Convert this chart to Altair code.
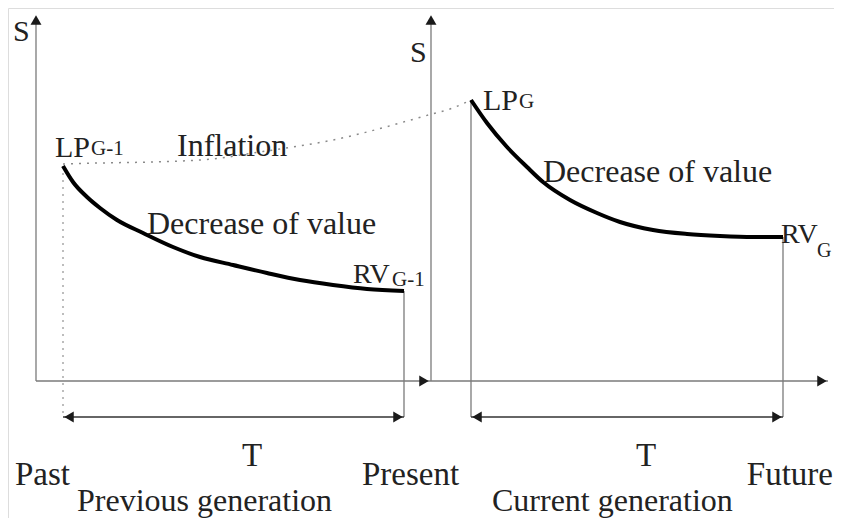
import altair as alt
import pandas as pd

# ---- data (t = time position, s = value S) ----
left_curve_t = [27, 37, 51, 64, 81, 107, 137, 164, 197, 231, 264, 297, 331, 368]
left_curve_s = [215, 199, 184, 173, 161, 148, 134, 124, 116, 108, 101, 96, 92, 90]
right_curve_t = [435, 451, 471, 491, 507, 534, 561, 584, 617, 651, 684, 717, 747]
right_curve_s = [281, 258, 234, 214, 199, 181, 168, 159, 151, 147, 145, 144, 144]
infl_t = [27, 64, 114, 177, 217, 257, 297, 331, 364, 396, 414, 435]
infl_s = [217, 218, 219, 222, 228, 234, 241, 249, 258, 267, 272, 281]

# segments: t, t2, s, s2, style
seg_t = [0, 395, 0, 27, 368, 435, 747, 27, 435]
seg_t2 = [0, 395, 792, 27, 368, 435, 747, 368, 747]
seg_s = [0, 0, 0, 215, 90, 281, 144, -36, -36]
seg_s2 = [362, 362, 0, -36, -36, -36, -36, -36, -36]
seg_style = ["axis", "axis", "axis", "dot", "axis", "axis", "axis", "dim", "dim"]

# arrow heads
head_t = [0, 395, 388, 786, 33, 362, 441, 741]
head_s = [361, 361, 0, 0, -36, -36, -36, -36]
head_shape = ["triangle-up", "triangle-up", "triangle-right", "triangle-right",
              "triangle-left", "triangle-right", "triangle-left", "triangle-right"]

# labels (left aligned)
lab_text = ["S", "S", "LP", "G-1", "Inflation", "Decrease of value", "RV", "G-1",
            "LP", "G", "Decrease of value", "RV", "G",
            "Past", "Present", "Previous generation", "Current generation"]
lab_t = [-23, 374, 19, 55, 141, 111, 317, 356, 447, 483, 507, 745, 781,
         -21, 326, 41, 456]
lab_s = [340, 319, 224, 226, 225, 147, 98, 95, 271, 273, 199, 138, 124,
         -104, -104, -130, -130]
lab_size = [30, 30, 30, 21, 32, 32, 28, 21, 30, 21, 32, 28, 20,
            33, 33, 32, 32]
# centred / right aligned labels
t_text = ["T", "T"]
t_t = [216, 610]
t_s = [-85, -85]
r_text = ["Future"]
r_t = [797]
r_s = [-104]

FONT = "Liberation Serif"
xs = alt.Scale(domain=[-28, 798], nice=False, zero=False)
ys = alt.Scale(domain=[-137, 373], nice=False, zero=False)

curves = pd.DataFrame({
    "t": left_curve_t + right_curve_t,
    "s": left_curve_s + right_curve_s,
    "gen": ["prev"] * len(left_curve_t) + ["curr"] * len(right_curve_t),
})
infl = pd.DataFrame({"t": infl_t, "s": infl_s})
segs = pd.DataFrame({"t": seg_t, "t2": seg_t2, "s": seg_s, "s2": seg_s2, "style": seg_style})
heads = pd.DataFrame({"t": head_t, "s": head_s, "shape": head_shape})
labs = pd.DataFrame({"text": lab_text, "t": lab_t, "s": lab_s, "size": lab_size})
tl = pd.DataFrame({"text": t_text, "t": t_t, "s": t_s})
rl = pd.DataFrame({"text": r_text, "t": r_t, "s": r_s})

X = alt.X("t:Q", scale=xs, axis=None)
Y = alt.Y("s:Q", scale=ys, axis=None)

axis_rules = alt.Chart(segs[segs["style"] == "axis"]).mark_rule(
    color="#7a7a7a", strokeWidth=1.3).encode(X, Y, x2="t2:Q", y2="s2:Q")
dot_rules = alt.Chart(segs[segs["style"] == "dot"]).mark_rule(
    color="#9a9a9a", strokeWidth=1.3, strokeDash=[2, 5]).encode(X, Y, x2="t2:Q", y2="s2:Q")
dim_rules = alt.Chart(segs[segs["style"] == "dim"]).mark_rule(
    color="#333333", strokeWidth=1.3).encode(X, Y, x2="t2:Q", y2="s2:Q")

curve_lines = alt.Chart(curves).mark_line(
    color="black", strokeWidth=4, interpolate="monotone").encode(X, Y, detail="gen:N")
infl_line = alt.Chart(infl).mark_line(
    color="#8a8a8a", strokeWidth=1.5, strokeDash=[2, 6], interpolate="monotone").encode(X, Y)

head_pts = alt.Chart(heads).mark_point(
    filled=True, color="#1a1a1a", size=120, opacity=1).encode(
    X, Y, shape=alt.Shape("shape:N", scale=None))

labels = alt.Chart(labs).mark_text(
    align="left", baseline="alphabetic", font=FONT, color="#222222").encode(
    X, Y, text="text:N", size=alt.Size("size:Q", scale=None))
tlabels = alt.Chart(tl).mark_text(
    align="center", baseline="alphabetic", font=FONT, fontSize=33, color="#222222").encode(
    X, Y, text="text:N")
rlabels = alt.Chart(rl).mark_text(
    align="right", baseline="alphabetic", font=FONT, fontSize=33, color="#222222").encode(
    X, Y, text="text:N")

chart = alt.layer(
    axis_rules, dot_rules, dim_rules, infl_line, curve_lines, head_pts,
    labels, tlabels, rlabels
).properties(
    width=826, height=510, padding=0, autosize=alt.AutoSizeParams(type="none")
).configure_view(stroke=None).configure(background="white")

chart.save("out.html", embed_options={"renderer": "svg", "actions": False})
